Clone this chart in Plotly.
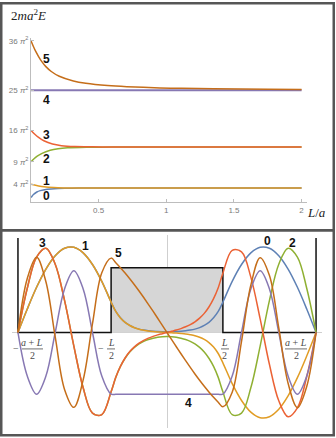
import plotly.graph_objects as go

W, H = 336, 438

# ---- top panel: 2ma^2E (units of pi^2) against L/a, levels 0..5
L_0 = [0, 0.0047, 0.018, 0.0435, 0.068, 0.12, 0.20, 0.25, 0.35, 0.5, 1.0, 2.0]
E_0 = [1, 1.21, 1.69, 2.25, 2.56, 2.89, 3.06, 3.10, 3.124, 3.130, 3.131, 3.131]
L_1 = [0, 0.026, 0.056, 0.096, 0.168, 0.243, 0.35, 0.5, 1.0, 2.0]
E_1 = [4, 3.80, 3.61, 3.42, 3.24, 3.17, 3.14, 3.132, 3.131, 3.131]
L_2 = [0, 0.0204, 0.046, 0.082, 0.142, 0.20, 0.27, 0.41, 0.6, 1.0, 2.0]
E_2 = [9, 9.61, 10.24, 10.89, 11.56, 11.90, 12.11, 12.25, 12.28, 12.29, 12.29]
L_3 = [0, 0.026, 0.056, 0.095, 0.159, 0.225, 0.324, 0.45, 0.6, 1.0, 2.0]
E_3 = [16, 15.21, 14.44, 13.69, 12.96, 12.60, 12.39, 12.33, 12.30, 12.29, 12.29]
L_4 = [0, 2.0]
E_4 = [25, 25]
L_5 = [0, 0.017, 0.035, 0.056, 0.080, 0.110, 0.150, 0.209, 0.313, 0.405,
       0.566, 0.708, 0.952, 1.112, 1.349, 1.751, 2.0]
E_5 = [36, 34.81, 33.64, 32.49, 31.36, 30.25, 29.16, 28.09, 27.04, 26.52,
       26.01, 25.76, 25.50, 25.40, 25.30, 25.20, 25.16]

E_TICKS = [4, 9, 16, 25, 36]
L_TICKS = [0.5, 1, 1.5, 2]

# ---- bottom panel: wavefunctions for L/a = 0.6 (walls at +-(a+L)/2)
HALF_L = 0.3
HALF_W = 0.8
V_BARRIER = 0.65
WALL_TOP = 0.95

X_PSI = [-0.8, -0.75, -0.7, -0.65, -0.6, -0.55, -0.5, -0.45, -0.4, -0.35, -0.3,
         -0.275, -0.25, -0.225, -0.2, -0.175, -0.15, -0.125, -0.1, -0.075, -0.05, -0.025,
         0,
         0.025, 0.05, 0.075, 0.1, 0.125, 0.15, 0.175, 0.2, 0.225, 0.25, 0.275,
         0.3, 0.35, 0.4, 0.45, 0.5, 0.55, 0.6, 0.65, 0.7, 0.75, 0.8]

PSI_0 = [0, .236, .454, .637, .771, .846, .856, .800, .683, .514, .305,
         .211, .147, .102, .071, .049, .034, .024, .017, .012, .0095, .008,
         .0074,
         .008, .0095, .012, .017, .024, .034, .049, .071, .102, .147, .211,
         .305, .514, .683, .800, .856, .846, .771, .637, .454, .236, 0]
PSI_1 = [0, .236, .454, .637, .771, .846, .856, .800, .683, .514, .305,
         .211, .146, .101, .070, .048, .033, .023, .015, .010, .006, .003,
         0,
         -.003, -.006, -.010, -.015, -.023, -.033, -.048, -.070, -.101, -.146, -.211,
         -.305, -.514, -.683, -.800, -.856, -.846, -.771, -.637, -.454, -.236, 0]
PSI_2 = [0, .445, .758, .847, .686, .322, -.137, -.556, -.810, -.825, -.596,
         -.451, -.341, -.259, -.196, -.150, -.115, -.089, -.070, -.057, -.048, -.043,
         -.041,
         -.043, -.048, -.057, -.070, -.089, -.115, -.150, -.196, -.259, -.341, -.451,
         -.596, -.825, -.810, -.556, -.137, .322, .686, .847, .758, .445, 0]
PSI_3 = [0, .445, .758, .847, .686, .322, -.137, -.556, -.810, -.825, -.596,
         -.450, -.340, -.256, -.192, -.144, -.107, -.079, -.057, -.039, -.024, -.012,
         0,
         .012, .024, .039, .057, .079, .107, .144, .192, .256, .340, .450,
         .596, .825, .810, .556, .137, -.322, -.686, -.847, -.758, -.445, 0]
PSI_4 = [0, -.438, -.62, -.438, 0, .438, .62, .438, 0, -.438, -.62,
         -.62, -.62, -.62, -.62, -.62, -.62, -.62, -.62, -.62, -.62, -.62,
         -.62,
         -.62, -.62, -.62, -.62, -.62, -.62, -.62, -.62, -.62, -.62, -.62,
         -.62, -.438, 0, .438, .62, .438, 0, -.438, -.62, -.438, 0]
PSI_5 = [0, .542, .755, .510, -.045, -.572, -.752, -.476, .089, .600, .747,
         .701, .651, .597, .540, .480, .417, .351, .283, .214, .143, .072,
         0,
         -.072, -.143, -.214, -.283, -.351, -.417, -.480, -.540, -.597, -.651, -.701,
         -.747, -.600, -.089, .476, .752, .572, .045, -.510, -.755, -.542, 0]

LEVELS = ["0", "1", "2", "3", "4", "5"]
COLORS = ["#5E81B5", "#E19C24", "#8FB032", "#EB6235", "#8778B3", "#C56E1A"]

SANS = "Liberation Sans, Arial, sans-serif"
SERIF = "Liberation Serif, Times New Roman, serif"
AXIS_GRAY = "#BDBDBD"
TICK_GRAY = "#7A7A7A"
FRAME = "#565656"


def fx(p):
    return p / W


def fy(p):
    return 1 - p / H


def paper_text(x, y, text, font, xanchor="center"):
    # explicit anchors: "auto" would shift paper-placed text by thirds
    return dict(x=fx(x), y=fy(y), xref="paper", yref="paper", text=text,
                xanchor=xanchor, yanchor="middle", showarrow=False, font=font)


fig = go.Figure()

# top panel curves
top = [(L_0, E_0), (L_1, E_1), (L_2, E_2), (L_3, E_3), (L_4, E_4), (L_5, E_5)]
for i, (xs, ys) in enumerate(top):
    fig.add_trace(go.Scatter(
        x=xs, y=ys, mode="lines", xaxis="x", yaxis="y",
        line=dict(color=COLORS[i], width=2 if i == 4 else 1.5,
                  shape="spline", smoothing=0.6),
        hoverinfo="skip", showlegend=False,
    ))

# bottom panel: barrier and potential outline
fig.add_trace(go.Scatter(
    x=[-HALF_L, HALF_L, HALF_L, -HALF_L, -HALF_L],
    y=[0, 0, V_BARRIER, V_BARRIER, 0],
    mode="lines", fill="toself", fillcolor="#D6D6D6",
    line=dict(width=0, color="#D6D6D6"),
    xaxis="x2", yaxis="y2", hoverinfo="skip", showlegend=False,
))
fig.add_trace(go.Scatter(
    x=[-HALF_W, -HALF_W, -HALF_L, -HALF_L, HALF_L, HALF_L, HALF_W, HALF_W],
    y=[WALL_TOP, 0, 0, V_BARRIER, V_BARRIER, 0, 0, WALL_TOP],
    mode="lines", line=dict(color="#111111", width=1.5),
    xaxis="x2", yaxis="y2", hoverinfo="skip", showlegend=False,
))

for i, ys in enumerate([PSI_0, PSI_1, PSI_2, PSI_3, PSI_4, PSI_5]):
    fig.add_trace(go.Scatter(
        x=X_PSI, y=ys, mode="lines", xaxis="x2", yaxis="y2",
        line=dict(color=COLORS[i], width=1.5, shape="spline", smoothing=1),
        hoverinfo="skip", showlegend=False,
    ))

ann = []
label_font = dict(family=SANS, size=12, color="#111111", weight="bold")

# level labels, top panel (data coords)
for name, yv in zip(LEVELS, [1.33, 4.67, 9.55, 14.9, 22.9, 32.0]):
    ann.append(dict(x=0.118, y=yv, xref="x", yref="y", text=name,
                    xanchor="center", yanchor="middle",
                    showarrow=False, font=label_font))

# level labels, bottom panel
bottom_pos = {"3": (-0.666, 0.90), "1": (-0.435, 0.87), "5": (-0.263, 0.80),
              "0": (0.537, 0.92), "2": (0.676, 0.90), "4": (0.113, -0.71)}
for name, (xv, yv) in bottom_pos.items():
    ann.append(dict(x=xv, y=yv, xref="x2", yref="y2", text=name,
                    xanchor="center", yanchor="middle",
                    showarrow=False, font=label_font))

# axis labels, top panel
axis_font = dict(family=SERIF, size=13, color="#222222")
ann.append(paper_text(9, 13, "2<i>ma</i><sup>2</sup><i>E</i>", axis_font, "left"))
ann.append(paper_text(305, 211, "<i>L</i>/<i>a</i>", axis_font, "left"))

# fraction tick labels, bottom panel
frac_font = dict(family=SERIF, size=10, color="#4A4A4A")
fracs = [(32, "<i>a</i> + <i>L</i>", 22, 43, True),
         (111, "<i>L</i>", 107, 115, True),
         (225, "<i>L</i>", 221, 229, False),
         (296, "<i>a</i> + <i>L</i>", 285, 307, False)]
shapes = []
for cx, num, b0, b1, neg in fracs:
    ann.append(paper_text(cx, 342.5, num, frac_font))
    ann.append(paper_text(cx, 355, "2", frac_font))
    shapes.append(dict(type="line", xref="paper", yref="paper",
                       x0=fx(b0), x1=fx(b1), y0=fy(348.5), y1=fy(348.5),
                       line=dict(color="#4A4A4A", width=0.8)))
    if neg:
        ann.append(paper_text(b0 - 1, 348, "\u2212", frac_font, "right"))

# panel frames
for y0, y1 in [(1.25, 229.25), (229.25, 435.25)]:
    shapes.append(dict(type="rect", xref="paper", yref="paper",
                       x0=fx(1.25), x1=fx(333.75), y0=fy(y1), y1=fy(y0),
                       line=dict(color=FRAME, width=2.5)))

tick_font = dict(family=SANS, size=8, color=TICK_GRAY)
axis_common = dict(showgrid=False, zeroline=False, showline=True,
                   linecolor=AXIS_GRAY, linewidth=1, ticks="inside", ticklen=3,
                   tickwidth=1, tickcolor=AXIS_GRAY, tickfont=tick_font,
                   fixedrange=True)

fig.update_layout(
    width=W, height=H,
    margin=dict(l=0, r=0, t=0, b=0),
    paper_bgcolor="white", plot_bgcolor="white",
    showlegend=False,
    xaxis=dict(domain=[fx(31), fx(307)], range=[0, 2.04], anchor="y",
               tickvals=L_TICKS, ticktext=["0.5", "1", "1.5", "2"], **axis_common),
    yaxis=dict(domain=[fy(201), fy(35.8)], range=[0, 36.72], anchor="x",
               tickvals=E_TICKS,
               ticktext=[f"{v} <i>π</i><sup>2</sup>" for v in E_TICKS],
               **axis_common),
    xaxis2=dict(domain=[fx(12), fx(322)], range=[-0.832, 0.832], anchor="y2",
                showgrid=False, showline=False, showticklabels=False, ticks="",
                zeroline=True, zerolinecolor="#CFCFCF", zerolinewidth=1,
                fixedrange=True),
    yaxis2=dict(domain=[fy(428), fy(234)], range=[-0.96, 0.98], anchor="x2",
                showgrid=False, showline=False, showticklabels=False, ticks="",
                zeroline=True, zerolinecolor="#CFCFCF", zerolinewidth=1,
                fixedrange=True),
    annotations=ann,
    shapes=shapes,
)

fig.write_html("out.html", config={"displayModeBar": False},
               post_script="document.body.style.margin='0';")
